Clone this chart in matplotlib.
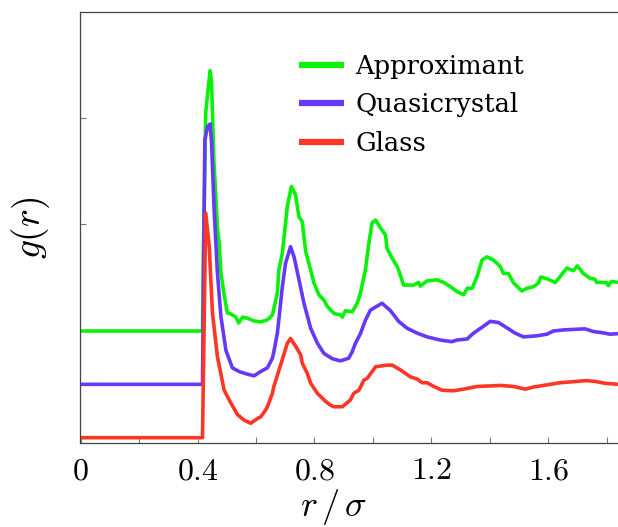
import matplotlib
matplotlib.use("Agg")
import matplotlib.pyplot as plt
import numpy as np

plt.rcParams['mathtext.fontset'] = 'cm'
plt.rcParams['font.family'] = ['DejaVu Serif']

# ---------------- data (r / sigma, g(r)) ----------------
x_approx = [0.0, 0.417, 0.420, 0.428, 0.443, 0.448, 0.456, 0.468, 0.474, 0.480, 0.490, 0.502,
            0.514, 0.531, 0.541, 0.554, 0.571, 0.592, 0.616, 0.639, 0.656, 0.673, 0.678, 0.690,
            0.707, 0.721, 0.735, 0.747, 0.758, 0.770, 0.787, 0.798, 0.815, 0.832, 0.844, 0.866,
            0.889, 0.895, 0.906, 0.929, 0.946, 0.957, 0.974, 0.986, 0.997, 1.009, 1.026, 1.043,
            1.048, 1.066, 1.083, 1.105, 1.139, 1.156, 1.162, 1.185, 1.219, 1.242, 1.265, 1.287,
            1.310, 1.322, 1.339, 1.356, 1.373, 1.390, 1.412, 1.435, 1.446, 1.463, 1.481, 1.509,
            1.526, 1.549, 1.566, 1.574, 1.595, 1.623, 1.640, 1.663, 1.685, 1.699, 1.719, 1.742,
            1.759, 1.765, 1.799, 1.805, 1.816, 1.838]
g_approx = [0.0, 0.0, 1.50, 4.10, 4.88, 4.65, 3.19, 1.95, 1.65, 1.09, 0.71, 0.34,
            0.32, 0.26, 0.15, 0.26, 0.24, 0.19, 0.17, 0.21, 0.30, 0.71, 1.14, 1.46,
            2.33, 2.71, 2.55, 2.14, 2.05, 1.49, 1.14, 0.90, 0.68, 0.58, 0.46, 0.33,
            0.30, 0.26, 0.38, 0.36, 0.52, 0.71, 1.14, 1.65, 2.03, 2.08, 1.93, 1.80,
            1.55, 1.36, 1.21, 0.86, 0.86, 0.91, 0.84, 0.94, 0.96, 0.91, 0.83, 0.74,
            0.68, 0.80, 0.80, 1.02, 1.33, 1.39, 1.33, 1.21, 1.08, 1.08, 0.90, 0.75,
            0.80, 0.83, 0.90, 1.01, 0.98, 0.91, 1.02, 1.18, 1.13, 1.22, 1.08, 0.99,
            0.97, 0.91, 0.91, 0.85, 0.93, 0.91]

x_quasi = [0.0, 0.417, 0.425, 0.434, 0.443, 0.448, 0.457, 0.468, 0.480, 0.497, 0.519, 0.542,
           0.571, 0.593, 0.616, 0.639, 0.656, 0.661, 0.673, 0.678, 0.690, 0.701, 0.718, 0.730,
           0.747, 0.764, 0.787, 0.810, 0.832, 0.861, 0.889, 0.917, 0.929, 0.940, 0.957, 0.974,
           0.991, 1.003, 1.031, 1.060, 1.088, 1.117, 1.151, 1.185, 1.230, 1.270, 1.287, 1.322,
           1.344, 1.373, 1.401, 1.429, 1.458, 1.486, 1.515, 1.560, 1.595, 1.617, 1.651, 1.685,
           1.725, 1.754, 1.782, 1.811, 1.838]
g_quasi = [0.0, 0.0, 4.58, 4.83, 4.88, 4.53, 3.25, 2.09, 1.27, 0.64, 0.31, 0.24,
           0.19, 0.16, 0.24, 0.31, 0.49, 0.61, 0.96, 1.21, 1.83, 2.27, 2.58, 2.39,
           1.96, 1.52, 1.05, 0.77, 0.58, 0.48, 0.44, 0.49, 0.61, 0.77, 0.95, 1.20,
           1.39, 1.43, 1.52, 1.38, 1.18, 1.05, 0.96, 0.89, 0.83, 0.80, 0.83, 0.85,
           0.96, 1.07, 1.18, 1.16, 1.06, 0.96, 0.89, 0.91, 0.94, 1.00, 1.02, 1.03,
           1.04, 0.99, 0.97, 0.94, 0.95]

x_glass = [0.0, 0.417, 0.428, 0.440, 0.451, 0.468, 0.491, 0.514, 0.537, 0.559, 0.582, 0.605,
           0.616, 0.633, 0.639, 0.656, 0.661, 0.684, 0.707, 0.718, 0.735, 0.753, 0.758, 0.775,
           0.787, 0.810, 0.827, 0.838, 0.855, 0.866, 0.895, 0.917, 0.923, 0.934, 0.952, 0.969,
           0.980, 1.009, 1.048, 1.066, 1.094, 1.128, 1.151, 1.168, 1.185, 1.208, 1.236, 1.276,
           1.310, 1.356, 1.401, 1.435, 1.481, 1.521, 1.549, 1.595, 1.640, 1.685, 1.731, 1.765,
           1.794, 1.838]
g_glass = [0.0, 0.0, 4.21, 3.58, 2.34, 1.52, 0.89, 0.65, 0.43, 0.33, 0.27, 0.36,
           0.39, 0.52, 0.58, 0.83, 0.96, 1.36, 1.77, 1.86, 1.72, 1.55, 1.40, 1.21,
           1.02, 0.83, 0.74, 0.68, 0.61, 0.58, 0.58, 0.68, 0.71, 0.83, 0.89, 1.08,
           1.11, 1.33, 1.36, 1.36, 1.27, 1.14, 1.10, 1.03, 1.03, 0.96, 0.89, 0.88,
           0.91, 0.96, 0.97, 0.98, 0.96, 0.91, 0.95, 0.99, 1.03, 1.05, 1.07, 1.05,
           1.02, 1.00]

series_labels = ['Approximant', 'Quasicrystal', 'Glass']
offsets = [2.0, 1.0, 0.0]
colors = ['#0af20a', '#6638fa', '#ff3526']

xtick_major = [0.0, 0.4, 0.8, 1.2, 1.6]
xtick_labels = ['$0$', '$0.4$', '$0.8$', '$1.2$', '$1.6$']
xtick_minor = [0.2, 0.6, 1.0, 1.4, 1.8]
ytick_vals = [0, 2, 4, 6]

# ---------------- figure ----------------
fig = plt.figure(figsize=(6.18, 5.27), dpi=100)
ax = fig.add_axes([80 / 618, 1 - 442.7 / 527, 538 / 618, (442.7 - 12) / 527])

data = [(x_approx, g_approx), (x_quasi, g_quasi), (x_glass, g_glass)]
for (xs, gs), off, col, lab in zip(data, offsets, colors, series_labels):
    ax.plot(xs, np.asarray(gs) + off, color=col, lw=2.6, label=lab,
            solid_joinstyle='round', solid_capstyle='butt')

ax.set_xlim(-0.002, 1.838)
ax.set_ylim(-0.094, 7.98)

ax.set_xticks(xtick_major)
ax.set_xticklabels(xtick_labels)
ax.set_xticks(xtick_minor, minor=True)
ax.set_yticks(ytick_vals)
ax.set_yticklabels([])

for s in ['left', 'bottom', 'top']:
    ax.spines[s].set_color('#444444')
    ax.spines[s].set_linewidth(0.9)
ax.spines['right'].set_visible(False)

ax.tick_params(axis='both', which='both', direction='in', length=4, width=0.8,
               color='#777777', top=False, right=False)
ax.tick_params(axis='x', which='major', labelsize=23, pad=9)

ax.set_xlabel(r'$r\,/\,\sigma$', fontsize=26)
ax.xaxis.set_label_coords(0.472, -0.102)
ax.set_ylabel(r'$g(r)$', fontsize=27)
ax.yaxis.set_label_coords(-0.052, 0.5)

leg = ax.legend(loc='upper left', bbox_to_anchor=(0.374, 0.944), frameon=False,
                fontsize=18.5, handlelength=1.75, handletextpad=0.43, labelspacing=0.52,
                borderpad=0.2)
for line in leg.get_lines():
    line.set_linewidth(4.5)

fig.savefig('out.png', dpi=100)
